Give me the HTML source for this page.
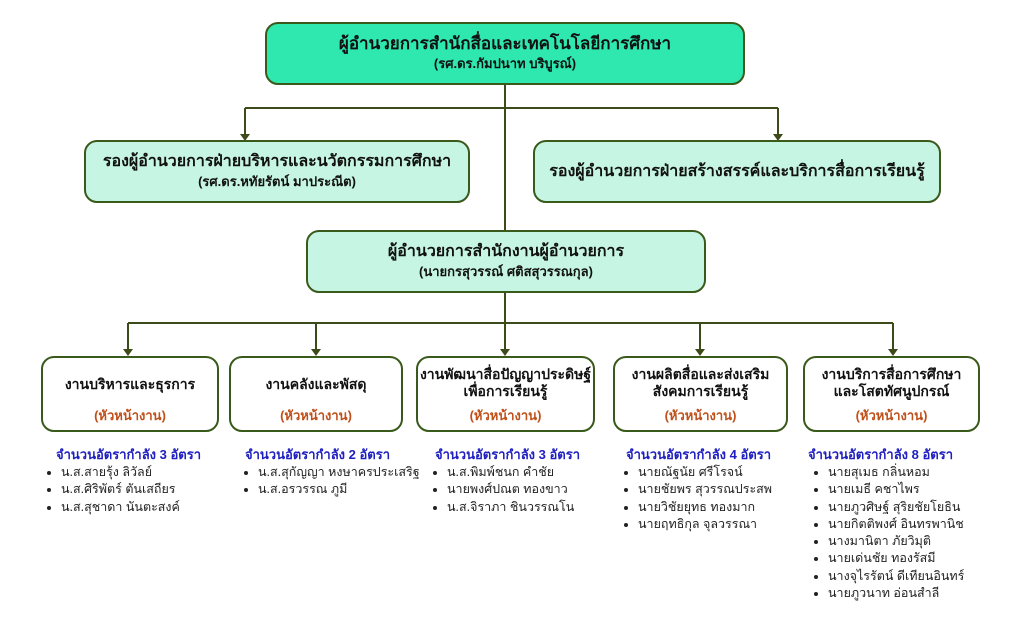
<!DOCTYPE html>
<html><head><meta charset="utf-8"><style>
body{margin:0;width:1024px;height:628px;background:#fff;position:relative;overflow:hidden;font-family:"Liberation Sans","DejaVu Sans",sans-serif;}
.b{position:absolute;box-sizing:border-box;border:2px solid #3a5a1c;border-radius:13px;text-align:center;font-weight:bold;color:#111;display:flex;flex-direction:column;justify-content:center;}
.t{font-size:16px;line-height:20px}
.s{font-size:13px;line-height:19px}
.w{background:#fff;justify-content:flex-start;padding-top:8px;font-size:14px;line-height:17px}
.h{color:#c0501a;font-size:13px;position:absolute;left:0;right:0;bottom:6px}
.c{position:absolute;color:#2020c0;font-weight:bold;font-size:13px}
ul{position:absolute;margin:0;padding-left:16px;font-size:12.5px;line-height:17.3px;color:#222}
</style></head><body>
<svg width="1024" height="628" style="position:absolute;left:0;top:0">
<g stroke="#3d4a1a" stroke-width="2" fill="none">
<line x1="505" y1="85" x2="505" y2="230"/>
<line x1="245" y1="108" x2="778" y2="108"/>
<line x1="245" y1="108" x2="245" y2="136"/>
<line x1="778" y1="108" x2="778" y2="136"/>
<line x1="505" y1="293" x2="505" y2="323"/>
<line x1="128" y1="323" x2="893" y2="323"/>
<line x1="128" y1="323" x2="128" y2="351"/>
<line x1="316" y1="323" x2="316" y2="351"/>
<line x1="505" y1="323" x2="505" y2="351"/>
<line x1="700" y1="323" x2="700" y2="351"/>
<line x1="893" y1="323" x2="893" y2="351"/>
</g>
<g fill="#3d4a1a">
<polygon points="240,134 250,134 245,141"/><polygon points="773,134 783,134 778,141"/>
<polygon points="123,349 133,349 128,356"/><polygon points="311,349 321,349 316,356"/>
<polygon points="500,349 510,349 505,356"/><polygon points="695,349 705,349 700,356"/>
<polygon points="888,349 898,349 893,356"/>
</g></svg>
<div class="b" style="left:265px;top:22px;width:480px;height:63px;background:#2ee8b0"><div class="t" style="font-size:17px">ผู้อำนวยการสำนักสื่อและเทคโนโลยีการศึกษา</div><div class="s">(รศ.ดร.กัมปนาท บริบูรณ์)</div></div>
<div class="b" style="left:84px;top:140px;width:386px;height:63px;background:#c6f6e3"><div class="t">รองผู้อำนวยการฝ่ายบริหารและนวัตกรรมการศึกษา</div><div class="s">(รศ.ดร.หทัยรัตน์ มาประณีต)</div></div>
<div class="b" style="left:533px;top:140px;width:408px;height:63px;background:#c6f6e3"><div class="t">รองผู้อำนวยการฝ่ายสร้างสรรค์และบริการสื่อการเรียนรู้</div></div>
<div class="b" style="left:306px;top:230px;width:400px;height:63px;background:#c6f6e3"><div class="t">ผู้อำนวยการสำนักงานผู้อำนวยการ</div><div class="s">(นายกรสุวรรณ์ ศติสสุวรรณกุล)</div></div>

<div class="b w" style="left:41px;top:356px;width:178px;height:76px;padding-top:18px">งานบริหารและธุรการ<div class="h">(หัวหน้างาน)</div></div>
<div class="b w" style="left:229px;top:356px;width:174px;height:76px;padding-top:18px">งานคลังและพัสดุ<div class="h">(หัวหน้างาน)</div></div>
<div class="b w" style="left:416px;top:356px;width:179px;height:76px">งานพัฒนาสื่อปัญญาประดิษฐ์<br>เพื่อการเรียนรู้<div class="h">(หัวหน้างาน)</div></div>
<div class="b w" style="left:613px;top:356px;width:175px;height:76px">งานผลิตสื่อและส่งเสริม<br>สังคมการเรียนรู้<div class="h">(หัวหน้างาน)</div></div>
<div class="b w" style="left:803px;top:356px;width:177px;height:76px">งานบริการสื่อการศึกษา<br>และโสตทัศนูปกรณ์<div class="h">(หัวหน้างาน)</div></div>

<div class="c" style="left:56px;top:444px">จำนวนอัตรากำลัง 3 อัตรา</div>
<div class="c" style="left:245px;top:444px">จำนวนอัตรากำลัง 2 อัตรา</div>
<div class="c" style="left:435px;top:444px">จำนวนอัตรากำลัง 3 อัตรา</div>
<div class="c" style="left:626px;top:444px">จำนวนอัตรากำลัง 4 อัตรา</div>
<div class="c" style="left:808px;top:444px">จำนวนอัตรากำลัง 8 อัตรา</div>
<ul style="left:45px;top:464px"><li>น.ส.สายรุ้ง ลิวัลย์</li><li>น.ส.ศิริพัตร์ ตันเสถียร</li><li>น.ส.สุชาดา นันตะสงค์</li></ul>
<ul style="left:242px;top:464px"><li>น.ส.สุกัญญา หงษาครประเสริฐ</li><li>น.ส.อรวรรณ ภูมี</li></ul>
<ul style="left:431px;top:464px"><li>น.ส.พิมพ์ชนก คำชัย</li><li>นายพงศ์ปณต ทองขาว</li><li>น.ส.จิราภา ชินวรรณโน</li></ul>
<ul style="left:622px;top:464px"><li>นายณัฐนัย ศรีโรจน์</li><li>นายชัยพร สุวรรณประสพ</li><li>นายวิชัยยุทธ ทองมาก</li><li>นายฤทธิกุล จุลวรรณา</li></ul>
<ul style="left:812px;top:464px"><li>นายสุเมธ กลิ่นหอม</li><li>นายเมธี คชาไพร</li><li>นายภูวศิษฐ์ สุริยชัยโยธิน</li><li>นายกิตติพงศ์ อินทรพานิช</li><li>นางมานิตา ภัยวิมุติ</li><li>นายเด่นชัย ทองรัสมี</li><li>นางจุไรรัตน์ ดีเทียนอินทร์</li><li>นายภูวนาท อ่อนสำลี</li></ul>
</body></html>
